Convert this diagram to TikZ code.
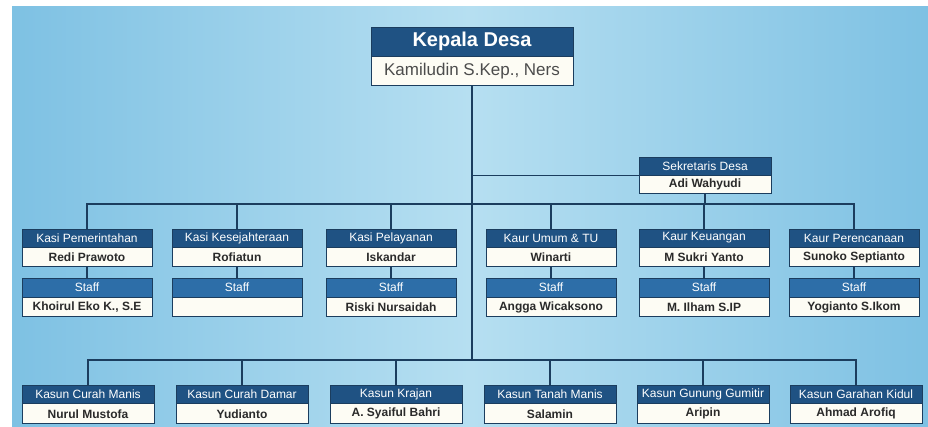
\documentclass[tikz,border=0pt]{standalone}
\usepackage{fontspec}
\setmainfont{Liberation Sans}
\usetikzlibrary{positioning}

\definecolor{judulbiru}{HTML}{1F5283}
\definecolor{stafbiru}{HTML}{2D6EA8}
\definecolor{garis}{HTML}{1B3D5E}
\definecolor{isi}{HTML}{FDFCF4}
\definecolor{teksnama}{HTML}{2A2A2A}
\definecolor{latartepi}{HTML}{7EC1E3}
\definecolor{latartengah}{HTML}{B6DFF1}

\tikzset{
  judul/.style={fill=judulbiru, draw=garis, line width=0.8pt, text=white,
    minimum width=130pt, minimum height=18pt, inner sep=0pt,
    font=\fontsize{12}{13}\selectfont},
  stafjudul/.style={judul, fill=stafbiru},
  nama/.style={fill=isi, draw=garis, line width=0.8pt, text=teksnama,
    minimum width=130pt, minimum height=19pt, inner sep=0pt,
    font=\fontsize{12}{13}\selectfont\bfseries},
  hubung/.style={draw=garis, line width=1.4pt},
}

\begin{document}
\begin{tikzpicture}[x=1pt, y=-1pt]
    \useasboundingbox (0,0) rectangle (928,427);
    \fill[white] (0,0) rectangle (928,427);
    \shade[left color=latartepi, right color=latartepi, middle color=latartengah]
        (12,7) rectangle (928,427);

    % kepala desa
    \node[judul, minimum width=202pt, minimum height=29pt,
          font=\fontsize{20}{22}\selectfont\bfseries] (kades) at (472,41.5) {Kepala Desa};
    \node[nama, minimum width=202pt, minimum height=29pt, text=black!70,
          font=\fontsize{17}{19}\selectfont, below=0pt of kades] (kadesn) {Kamiludin S.Kep., Ners};

    % sekretaris
    \node[judul, minimum width=132pt] (sekdes) at (705,166) {Sekretaris Desa};
    \node[nama, minimum width=132pt, minimum height=18pt, below=0pt of sekdes] (sekdesn) {Adi Wahyudi};

    \coordinate (busatas) at (472,204);
    \coordinate (busbawah) at (472,360);

    \draw[hubung] (kadesn.south) -- (busbawah);
    \draw[hubung] (sekdes.south west) -- (kadesn.south |- sekdes.south west);
    \draw[hubung] (sekdesn.south) -- (sekdesn.south |- busatas);

    % kasi dan kaur, dengan staf
    \foreach \i/\x/\jab/\nm/\st in {
        1/87/{Kasi Pemerintahan}/{Redi Prawoto}/{Khoirul Eko K., S.E},
        2/237/{Kasi Kesejahteraan}/{Rofiatun}/{},
        3/391/{Kasi Pelayanan}/{Iskandar}/{Riski Nursaidah},
        4/551/{Kaur Umum \& TU}/{Winarti}/{Angga Wicaksono},
        5/704/{Kaur Keuangan}/{M Sukri Yanto}/{M. Ilham S.IP},
        6/854/{Kaur Perencanaan}/{Sunoko Septianto}/{Yogianto S.Ikom}}{
      \node[judul] (kasi\i) at (\x,238) {\jab};
      \node[nama, below=0pt of kasi\i] (kasin\i) {\nm};
      \node[stafjudul, minimum height=19pt] (staf\i) at (\x,287.5) {Staff};
      \node[nama, below=0pt of staf\i] (stafn\i) {\st};
      \draw[hubung] (kasi\i.north) |- (busatas);
      \draw[hubung] (kasin\i.south) -- (staf\i.north);
    }

    % kepala dusun
    \foreach \i/\x/\jab/\nm in {
        1/88/{Kasun Curah Manis}/{Nurul Mustofa},
        2/242/{Kasun Curah Damar}/{Yudianto},
        3/396/{Kasun Krajan}/{A. Syaiful Bahri},
        4/550/{Kasun Tanah Manis}/{Salamin},
        5/703/{Kasun Gunung Gumitir}/{Aripin},
        6/856/{Kasun Garahan Kidul}/{Ahmad Arofiq}}{
      \node[judul, minimum width=132pt] (kasun\i) at (\x,394) {\jab};
      \node[nama, minimum width=132pt, minimum height=20pt, below=0pt of kasun\i] (kasunn\i) {\nm};
      \draw[hubung] (kasun\i.north) |- (busbawah);
    }
\end{tikzpicture}
\end{document}
